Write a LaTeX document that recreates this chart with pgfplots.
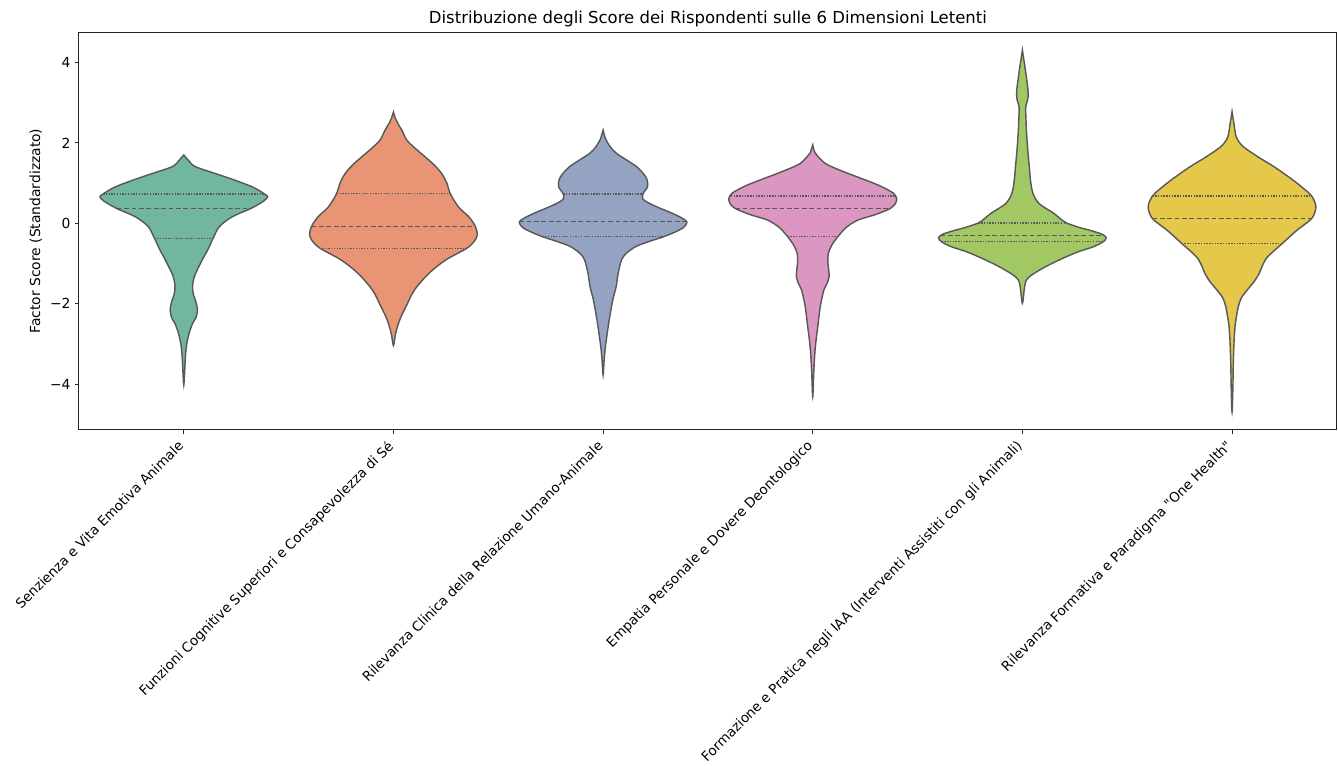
\documentclass[border=0pt]{standalone}
\usepackage{fontspec}
\setmainfont{DejaVu Sans}[Ligatures=TeXOff]
\usepackage{pgfplots}
\pgfplotsset{compat=1.18}
\definecolor{c1}{RGB}{113,182,160}
\definecolor{c2}{RGB}{233,149,117}
\definecolor{c3}{RGB}{149,163,195}
\definecolor{c4}{RGB}{219,150,193}
\definecolor{c5}{RGB}{162,200,100}
\definecolor{c6}{RGB}{229,200,73}
\definecolor{edge}{RGB}{88,88,88}
\pgfplotsset{
  vio/.style={draw=edge, line width=1.2pt, smooth, tension=0.5},
  qline/.style={edge, line width=1.1pt, dash pattern=on 1.2pt off 1.1pt},
  mline/.style={edge, line width=1.1pt, dash pattern=on 4pt off 2.2pt},
}
\begin{document}
\begin{tikzpicture}
\path[use as bounding box] (-66.1pt,-281.2pt) rectangle (1053.9pt,359.9pt);
\begin{axis}[
  at={(0,0)}, anchor=south west,
  scale only axis, width=1053pt, height=333.1pt,
  xmin=-0.5, xmax=5.5, ymin=-5.14, ymax=4.76,
  xtick={0,1,2,3,4,5},
  xticklabels={Senzienza e Vita Emotiva Animale,
    Funzioni Cognitive Superiori e Consapevolezza di Sé,
    Rilevanza Clinica della Relazione Umano-Animale,
    Empatia Personale e Dovere Deontologico,
    Formazione e Pratica negli IAA (Interventi Assistiti con gli Animali),
    Rilevanza Formativa e Paradigma "One Health"},
  ytick={-4,-2,0,2,4},
  yticklabels={−4,−2,0,2,4},
  /pgf/number format/assume math mode=true,
  ticklabel style={font=\fontsize{11.6}{13}\selectfont, text=black},
  xticklabel style={font=\fontsize{11.3}{13}\selectfont, rotate=45, anchor=north east, inner sep=1pt, yshift=2pt, xshift=-6pt},
  tick align=outside, tick pos=left,
  major tick length=3.5pt,
  tick style={black!85, line width=0.8pt},
  axis line style={black!85, line width=0.8pt},
  title={Distribuzione degli Score dei Rispondenti sulle 6 Dimensioni Letenti},
  title style={font=\fontsize{13.8}{16}\selectfont, yshift=-5.5pt},
  ylabel={Factor Score (Standardizzato)},
  ylabel style={font=\fontsize{11.6}{13}\selectfont},
  clip=false,
]
% Violin 1
\addplot[vio, fill=c1] coordinates {
(0,1.70) (0.025,1.55) (0.055,1.41) (0.15,1.24) (0.24,1.08) (0.33,0.90) (0.385,0.73) (0.40,0.66) (0.38,0.55) (0.32,0.37) (0.23,0.16) (0.17,-0.08) (0.14,-0.37) (0.115,-0.65) (0.088,-0.91) (0.065,-1.15) (0.05,-1.33) (0.042,-1.55) (0.045,-1.75) (0.058,-1.95) (0.065,-2.16) (0.058,-2.35) (0.042,-2.49) (0.025,-2.74) (0.014,-3.0) (0.008,-3.3) (0.004,-3.7) (0,-4.02)
(-0.004,-3.7) (-0.008,-3.3) (-0.014,-3.0) (-0.025,-2.74) (-0.042,-2.49) (-0.058,-2.35) (-0.065,-2.16) (-0.058,-1.95) (-0.045,-1.75) (-0.042,-1.55) (-0.05,-1.33) (-0.065,-1.15) (-0.088,-0.91) (-0.115,-0.65) (-0.14,-0.37) (-0.17,-0.08) (-0.23,0.16) (-0.32,0.37) (-0.38,0.55) (-0.40,0.66) (-0.385,0.73) (-0.33,0.90) (-0.24,1.08) (-0.15,1.24) (-0.055,1.41) (-0.025,1.55)
} -- cycle;
\addplot[qline] coordinates {(-0.385,0.73) (0.385,0.73)};
\addplot[mline] coordinates {(-0.32,0.37) (0.32,0.37)};
\addplot[qline] coordinates {(-0.14,-0.37) (0.14,-0.37)};
% Violin 2
\addplot[vio, fill=c2] coordinates {
(1,2.77) (1.01,2.6) (1.025,2.45) (1.042,2.3) (1.064,2.07) (1.105,1.86) (1.15,1.66) (1.195,1.45) (1.23,1.24) (1.255,1.0) (1.27,0.75) (1.31,0.41) (1.36,0.16) (1.39,-0.07) (1.40,-0.29) (1.385,-0.45) (1.35,-0.62) (1.25,-0.91) (1.17,-1.24) (1.10,-1.66) (1.06,-2.07) (1.038,-2.3) (1.024,-2.49) (1.01,-2.75) (1,-3.04)
(0.99,-2.75) (0.976,-2.49) (0.962,-2.3) (0.94,-2.07) (0.90,-1.66) (0.83,-1.24) (0.75,-0.91) (0.65,-0.62) (0.615,-0.45) (0.60,-0.29) (0.61,-0.07) (0.64,0.16) (0.69,0.41) (0.73,0.75) (0.745,1.0) (0.77,1.24) (0.805,1.45) (0.85,1.66) (0.895,1.86) (0.936,2.07) (0.958,2.3) (0.975,2.45) (0.99,2.6)
} -- cycle;
\addplot[qline] coordinates {(0.73,0.75) (1.27,0.75)};
\addplot[mline] coordinates {(0.61,-0.07) (1.39,-0.07)};
\addplot[qline] coordinates {(0.65,-0.62) (1.35,-0.62)};
% Violin 3
\addplot[vio, fill=c3] coordinates {
(2,2.32) (2.012,2.1) (2.035,1.9) (2.064,1.74) (2.12,1.55) (2.16,1.41) (2.195,1.22) (2.21,1.08) (2.212,0.91) (2.19,0.73) (2.19,0.60) (2.22,0.50) (2.27,0.38) (2.33,0.25) (2.38,0.12) (2.40,0.03) (2.385,-0.10) (2.35,-0.20) (2.29,-0.33) (2.22,-0.45) (2.155,-0.58) (2.11,-0.75) (2.088,-0.91) (2.072,-1.24) (2.062,-1.58) (2.046,-1.91) (2.029,-2.41) (2.018,-2.8) (2.011,-3.07) (2.005,-3.4) (2,-3.77)
(1.995,-3.4) (1.989,-3.07) (1.982,-2.8) (1.971,-2.41) (1.954,-1.91) (1.938,-1.58) (1.928,-1.24) (1.912,-0.91) (1.89,-0.75) (1.845,-0.58) (1.78,-0.45) (1.71,-0.33) (1.65,-0.20) (1.615,-0.10) (1.60,0.03) (1.62,0.12) (1.67,0.25) (1.73,0.38) (1.78,0.50) (1.81,0.60) (1.81,0.73) (1.788,0.91) (1.79,1.08) (1.805,1.22) (1.84,1.41) (1.88,1.55) (1.936,1.74) (1.965,1.9) (1.988,2.1)
} -- cycle;
\addplot[qline] coordinates {(1.81,0.73) (2.19,0.73)};
\addplot[mline] coordinates {(1.60,0.04) (2.40,0.04)};
\addplot[qline] coordinates {(1.71,-0.33) (2.29,-0.33)};
% Violin 4
\addplot[vio, fill=c4] coordinates {
(3,1.95) (3.012,1.75) (3.06,1.49) (3.14,1.30) (3.21,1.16) (3.29,1.0) (3.33,0.91) (3.385,0.75) (3.40,0.62) (3.395,0.50) (3.37,0.37) (3.30,0.22) (3.215,0.08) (3.16,-0.10) (3.12,-0.33) (3.09,-0.55) (3.074,-0.75) (3.072,-0.95) (3.076,-1.15) (3.078,-1.33) (3.068,-1.50) (3.053,-1.66) (3.036,-2.07) (3.024,-2.57) (3.016,-2.9) (3.01,-3.23) (3.005,-3.7) (3,-4.31)
(2.995,-3.7) (2.99,-3.23) (2.984,-2.9) (2.976,-2.57) (2.964,-2.07) (2.947,-1.66) (2.932,-1.50) (2.922,-1.33) (2.924,-1.15) (2.928,-0.95) (2.926,-0.75) (2.91,-0.55) (2.88,-0.33) (2.84,-0.10) (2.785,0.08) (2.70,0.22) (2.63,0.37) (2.605,0.50) (2.60,0.62) (2.615,0.75) (2.67,0.91) (2.71,1.0) (2.79,1.16) (2.86,1.30) (2.94,1.49) (2.988,1.75)
} -- cycle;
\addplot[qline] coordinates {(2.61,0.68) (3.39,0.68)};
\addplot[mline] coordinates {(2.63,0.37) (3.37,0.37)};
\addplot[qline] coordinates {(2.88,-0.33) (3.12,-0.33)};
% Violin 5
\addplot[vio, fill=c5] coordinates {
(4,4.31) (4.006,4.1) (4.012,3.9) (4.02,3.6) (4.025,3.4) (4.028,3.2) (4.024,3.05) (4.016,2.9) (4.017,2.6) (4.02,2.24) (4.026,1.8) (4.033,1.41) (4.038,1.1) (4.046,0.83) (4.058,0.65) (4.078,0.5) (4.11,0.38) (4.15,0.25) (4.18,0.12) (4.21,0.01) (4.27,-0.10) (4.32,-0.17) (4.38,-0.27) (4.40,-0.36) (4.385,-0.46) (4.34,-0.58) (4.27,-0.70) (4.21,-0.83) (4.16,-0.95) (4.11,-1.08) (4.07,-1.20) (4.04,-1.30) (4.018,-1.42) (4.01,-1.6) (4,-1.99)
(3.99,-1.6) (3.982,-1.42) (3.96,-1.30) (3.93,-1.20) (3.89,-1.08) (3.84,-0.95) (3.79,-0.83) (3.73,-0.70) (3.66,-0.58) (3.615,-0.46) (3.60,-0.36) (3.62,-0.27) (3.68,-0.17) (3.73,-0.10) (3.79,0.01) (3.82,0.12) (3.85,0.25) (3.89,0.38) (3.922,0.5) (3.942,0.65) (3.954,0.83) (3.962,1.1) (3.967,1.41) (3.974,1.8) (3.98,2.24) (3.983,2.6) (3.984,2.9) (3.976,3.05) (3.972,3.2) (3.975,3.4) (3.98,3.6) (3.988,3.9) (3.994,4.1)
} -- cycle;
\addplot[qline] coordinates {(3.79,0.01) (4.21,0.01)};
\addplot[mline] coordinates {(3.61,-0.31) (4.39,-0.31)};
\addplot[qline] coordinates {(3.615,-0.46) (4.385,-0.46)};
% Violin 6
\addplot[vio, fill=c6] coordinates {
(5,2.78) (5.01,2.45) (5.02,2.15) (5.045,1.95) (5.076,1.82) (5.14,1.6) (5.20,1.41) (5.29,1.08) (5.345,0.85) (5.38,0.68) (5.40,0.41) (5.38,0.12) (5.31,-0.17) (5.24,-0.5) (5.17,-0.83) (5.145,-1.05) (5.13,-1.24) (5.105,-1.45) (5.072,-1.66) (5.045,-1.85) (5.03,-2.07) (5.016,-2.49) (5.01,-2.9) (5.006,-3.5) (5.004,-4.1) (5,-4.69)
(4.996,-4.1) (4.994,-3.5) (4.99,-2.9) (4.984,-2.49) (4.97,-2.07) (4.955,-1.85) (4.928,-1.66) (4.895,-1.45) (4.87,-1.24) (4.855,-1.05) (4.83,-0.83) (4.76,-0.5) (4.69,-0.17) (4.62,0.12) (4.60,0.41) (4.62,0.68) (4.655,0.85) (4.71,1.08) (4.80,1.41) (4.86,1.6) (4.924,1.82) (4.955,1.95) (4.98,2.15) (4.99,2.45)
} -- cycle;
\addplot[qline] coordinates {(4.62,0.68) (5.38,0.68)};
\addplot[mline] coordinates {(4.62,0.12) (5.38,0.12)};
\addplot[qline] coordinates {(4.76,-0.50) (5.24,-0.50)};
\end{axis}
\end{tikzpicture}
\end{document}
